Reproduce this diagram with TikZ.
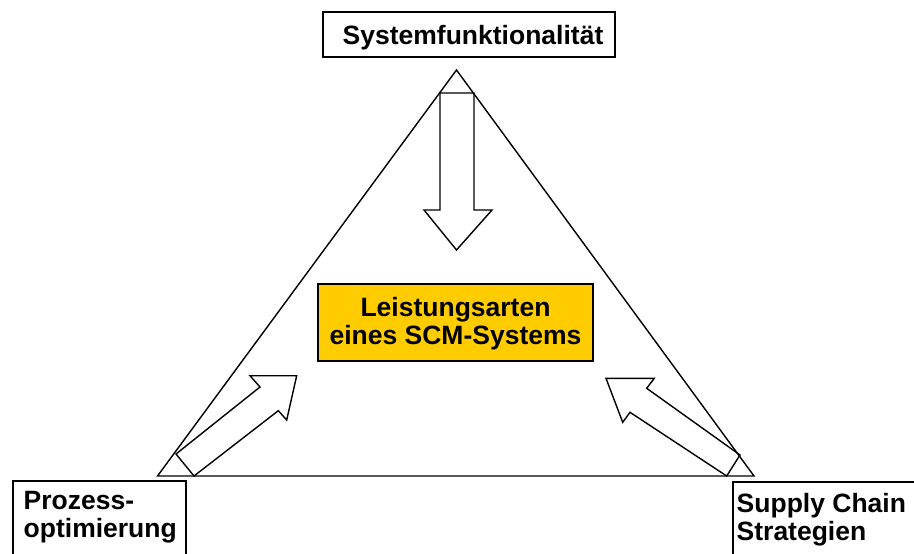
\documentclass[tikz,border=0pt]{standalone}
\usepackage{fontspec}
\setmainfont{Liberation Sans}
\usepackage{xcolor}
\usepackage{tikz}

\definecolor{scmgelb}{RGB}{255,204,0}

\begin{document}
\begin{tikzpicture}[x=1pt,y=-1pt,line width=1.4pt,
    beschr/.style={draw=none,inner sep=0pt,font=\fontsize{26.5}{28}\selectfont\bfseries}]
             \useasboundingbox (0,0) rectangle (914,554);

             \coordinate (spitze) at (456.5,70);
             \coordinate (links) at (157.5,476);
             \coordinate (rechts) at (754,476);
             \draw (spitze) -- (links) -- (rechts) -- cycle;

             \draw (323,12) rectangle (615,57);
             \node[beschr,anchor=base west] (sysfkt) at (342,45) {Systemfunktionalität};

             \draw[fill=scmgelb] (318,284) rectangle (593,361);
             \node[beschr,align=center] (leistung) at (455.5,324) {Leistungsarten\\eines SCM-Systems};

             \draw (13,481) rectangle (186,600);
             \node[beschr,align=left,anchor=north west] (prozess) at (23,491) {Prozess-\\optimierung};

             \draw (733,482) rectangle (940,600);
             \node[beschr,align=left,anchor=north west] (strategie) at (736,493) {Supply Chain\\Strategien};

             \draw (440,93) -- (440,210) -- (424,210) -- (456.5,250) -- (492,210)
                -- (474,210) -- (474,93) -- cycle;

             \draw (176,454) -- (260,387) -- (250,375.7) -- (296.7,375.7) -- (286.7,420)
                -- (278.3,410.7) -- (194,476) -- cycle;

             \draw (740,455) -- (646.7,388.3) -- (654.3,378.3) -- (606,378.3) -- (622.7,422.3)
                -- (630,412.3) -- (726.7,476) -- cycle;
             \end{tikzpicture}
\end{document}
